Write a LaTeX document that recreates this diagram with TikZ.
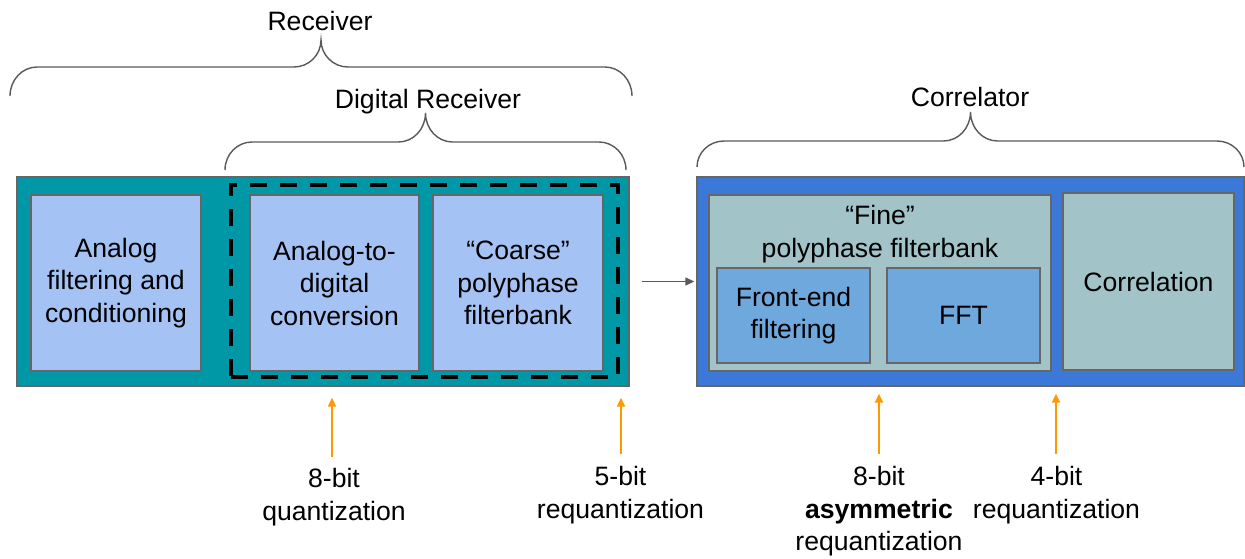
\documentclass[tikz,border=0pt]{standalone}
\usepackage{fontspec}
\setmainfont{Liberation Sans}
\usetikzlibrary{arrows.meta,calc}

\definecolor{recvteal}{HTML}{0097A7}
\definecolor{lightblue}{HTML}{A4C2F4}
\definecolor{corrblue}{HTML}{3C78D8}
\definecolor{finegray}{HTML}{A2C4C9}
\definecolor{innerblue}{HTML}{6FA8DC}
\definecolor{edgegray}{HTML}{666666}
\definecolor{bracegray}{HTML}{595959}
\definecolor{qorange}{HTML}{FF9900}

\newcommand\figfont{\fontsize{26.6}{32.5}\selectfont}

% horizontal curly brace: x1, x2, y of the ends, y of the flat part, y of the tip, corner radius
\newcommand\topbrace[6]{%
  \pgfmathsetmacro\bxm{(#1+#2)/2}%
  \draw[bracestyle]
    (#1,#3) .. controls (#1,{#3-0.552*(#3-#4)}) and ({#1+0.448*#6},#4) .. ({#1+#6},#4)
    -- ({\bxm-#6},#4)
    .. controls ({\bxm-0.448*#6},#4) and (\bxm,{#5+0.552*(#4-#5)}) .. (\bxm,#5)
    .. controls (\bxm,{#5+0.552*(#4-#5)}) and ({\bxm+0.448*#6},#4) .. ({\bxm+#6},#4)
    -- ({#2-#6},#4)
    .. controls ({#2-0.448*#6},#4) and (#2,{#3-0.552*(#3-#4)}) .. (#2,#3);%
}

\tikzset{
  block/.style={draw=edgegray, line width=1.3pt, inner sep=0pt, align=center, font=\figfont},
  label/.style={inner sep=0pt, align=center, font=\figfont},
  dashedbox/.style={draw=black, line width=4pt, dash pattern=on 17pt off 13pt, inner sep=0pt},
  bracestyle/.style={draw=bracegray, line width=1.4pt},
  linkarrow/.style={draw=bracegray, line width=1.3pt, -{Triangle[length=9pt,width=8pt]}},
  quantarrow/.style={draw=qorange, line width=2pt, -{Triangle[length=9pt,width=8pt]}},
}

\begin{document}
\begin{tikzpicture}[x=1pt, y=-1pt]
\useasboundingbox (0,0) rectangle (1245,558);

% receiver chain
\node[block, fill=recvteal, minimum width=612pt, minimum height=209pt] (recv) at (323,281.5) {};
\node[block, fill=lightblue, minimum width=170pt, minimum height=176pt] (analog) at (116,283)
  {Analog\\filtering and\\conditioning};
\node[dashedbox, minimum width=387pt, minimum height=192pt] (digi) at (424.5,281) {};
\node[block, fill=lightblue, minimum width=169pt, minimum height=176pt] (adc) at (334.5,283)
  {Analog-to-\\digital\\conversion};
\node[block, fill=lightblue, minimum width=170pt, minimum height=176pt] (coarse) at (518,283)
  {“Coarse”\\polyphase\\filterbank};

% correlator
\node[block, fill=corrblue, minimum width=547pt, minimum height=209pt] (corr) at (970.5,281.5) {};
\node[block, fill=finegray, minimum width=342pt, minimum height=176pt] (fine) at (880,283) {};
\node[label] (finetext) at (880,234) {“Fine”\\polyphase filterbank};
\node[block, fill=innerblue, minimum width=153pt, minimum height=95pt] (front) at (793.5,315.5)
  {Front-end\\filtering};
\node[block, fill=innerblue, minimum width=153pt, minimum height=95pt] (fft) at (963.5,315.5) {FFT};
\node[block, fill=finegray, minimum width=171pt, minimum height=177pt] (correl) at (1148.5,281.5)
  {Correlation};

% link between the two stages
\draw[linkarrow] ([xshift=12pt]recv.east) -- ([xshift=-2pt]corr.west);

% braces and their titles
\topbrace{10}{632}{96}{67}{40}{27}
\node[label, anchor=base] (recvtitle) at (320,30) {Receiver};
\topbrace{225}{626}{170}{142}{113}{27}
\node[label, anchor=base] (digititle) at (428,108) {Digital Receiver};
\topbrace{697}{1244}{167}{141}{112}{27}
\node[label, anchor=base] (corrtitle) at (970,106) {Correlator};

% quantization labels
\node[label, anchor=north] (lab8) at (334,468.5) {8-bit\\quantization};
\node[label, anchor=north] (lab5) at (620.5,466.5) {5-bit\\requantization};
\node[label, anchor=north] (lab8a) at (879,466.5) {8-bit\\\textbf{asymmetric}\\requantization};
\node[label, anchor=north] (lab4) at (1056.5,466.5) {4-bit\\requantization};

\coordinate (q8) at (332,457);
\coordinate (q5) at (621,454);
\coordinate (q8a) at (879,454);
\coordinate (q4) at (1056,454);
\draw[quantarrow, shorten >=11pt] (q8) -- (q8 |- recv.south);
\draw[quantarrow, shorten >=11pt] (q5) -- (q5 |- recv.south);
\draw[quantarrow, shorten >=7pt] (q8a) -- (q8a |- corr.south);
\draw[quantarrow, shorten >=7pt] (q4) -- (q4 |- corr.south);
\end{tikzpicture}
\end{document}
